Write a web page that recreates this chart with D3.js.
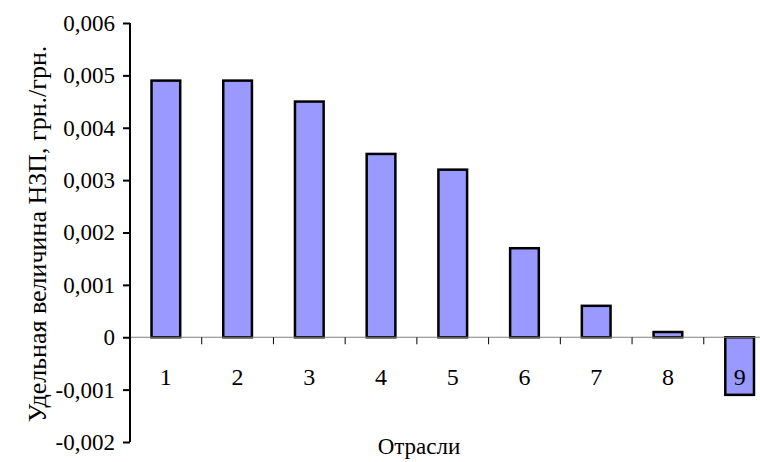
<!DOCTYPE html>
<html>
<head>
<meta charset="utf-8">
<script src="https://cdn.jsdelivr.net/npm/d3@7"></script>
</head>
<body style="margin:0">
<svg id="chart" width="760" height="462"></svg>
<script>
// branches 1..9 and specific value of the indicator
var categories = ["1", "2", "3", "4", "5", "6", "7", "8", "9"];
var values = [0.0049, 0.0049, 0.0045, 0.0035, 0.0032, 0.0017, 0.0006, 0.0001, -0.0011];
var yTicks = [-0.002, -0.001, 0, 0.001, 0.002, 0.003, 0.004, 0.005, 0.006];

var width = 760, height = 462;
var serif = "Liberation Serif";

var svg = d3.select("#chart");

var x = d3.scaleBand()
  .domain(categories)
  .range([130, 775.5])
  .paddingInner(0)
  .paddingOuter(0);

var y = d3.scaleLinear()
  .domain([-0.002, 0.006])
  .range([442, 23]);

var fmt = function (d) {
  if (d === 0) return "0";
  return d3.format(".3f")(d).replace(".", ",").replace("−", "-");
};

// bars
var barW = x.bandwidth() * 0.4;
svg.selectAll(".bar")
  .data(values)
  .enter()
    .append("rect")
      .attr("class", "bar")
      .attr("x", function (d, i) { return x(categories[i]) + (x.bandwidth() - barW) / 2; })
      .attr("y", function (d) { return y(Math.max(0, d)); })
      .attr("width", barW)
      .attr("height", function (d) { return Math.abs(y(d) - y(0)); })
      .attr("fill", "#9999ff")
      .attr("stroke", "#000")
      .attr("stroke-width", 2.5);

// zero line with category ticks
svg.append("line")
  .attr("x1", 130).attr("x2", width)
  .attr("y1", y(0)).attr("y2", y(0))
  .attr("stroke", "#808080")
  .attr("stroke-width", 1);

svg.selectAll(".xtick")
  .data(categories.slice(1))
  .enter()
    .append("line")
      .attr("x1", function (d) { return x(d); })
      .attr("x2", function (d) { return x(d); })
      .attr("y1", y(0))
      .attr("y2", y(0) + 7)
      .attr("stroke", "#000")
      .attr("stroke-width", 1);

svg.selectAll(".xlabel")
  .data(categories)
  .enter()
    .append("text")
      .attr("x", function (d) { return x(d) + x.bandwidth() / 2; })
      .attr("y", 385)
      .attr("text-anchor", "middle")
      .attr("font-family", serif)
      .attr("font-size", 24)
      .text(function (d) { return d; });

// y axis
var yAxis = d3.axisLeft(y)
  .tickValues(yTicks)
  .tickFormat(fmt)
  .tickSize(7)
  .tickPadding(8);

var ya = svg.append("g")
  .attr("transform", "translate(130,0)")
  .call(yAxis);

ya.select(".domain").remove();
ya.append("line")
  .attr("x1", 0).attr("x2", 0)
  .attr("y1", y(0.006)).attr("y2", y(-0.002))
  .attr("stroke", "#000")
  .attr("stroke-width", 2);
ya.selectAll(".tick line").attr("stroke-width", 2);
ya.selectAll(".tick text")
  .attr("font-family", serif)
  .attr("font-size", 23)
  .attr("fill", "#000");

// axis titles
svg.append("text")
  .attr("x", 419)
  .attr("y", 454)
  .attr("text-anchor", "middle")
  .attr("font-family", serif)
  .attr("font-size", 23)
  .text("Отрасли");

svg.append("text")
  .attr("transform", "translate(46,234) rotate(-90)")
  .attr("text-anchor", "middle")
  .attr("font-family", serif)
  .attr("font-size", 26)
  .text("Удельная величина НЗП, грн./грн.");
</script>
</body>
</html>
